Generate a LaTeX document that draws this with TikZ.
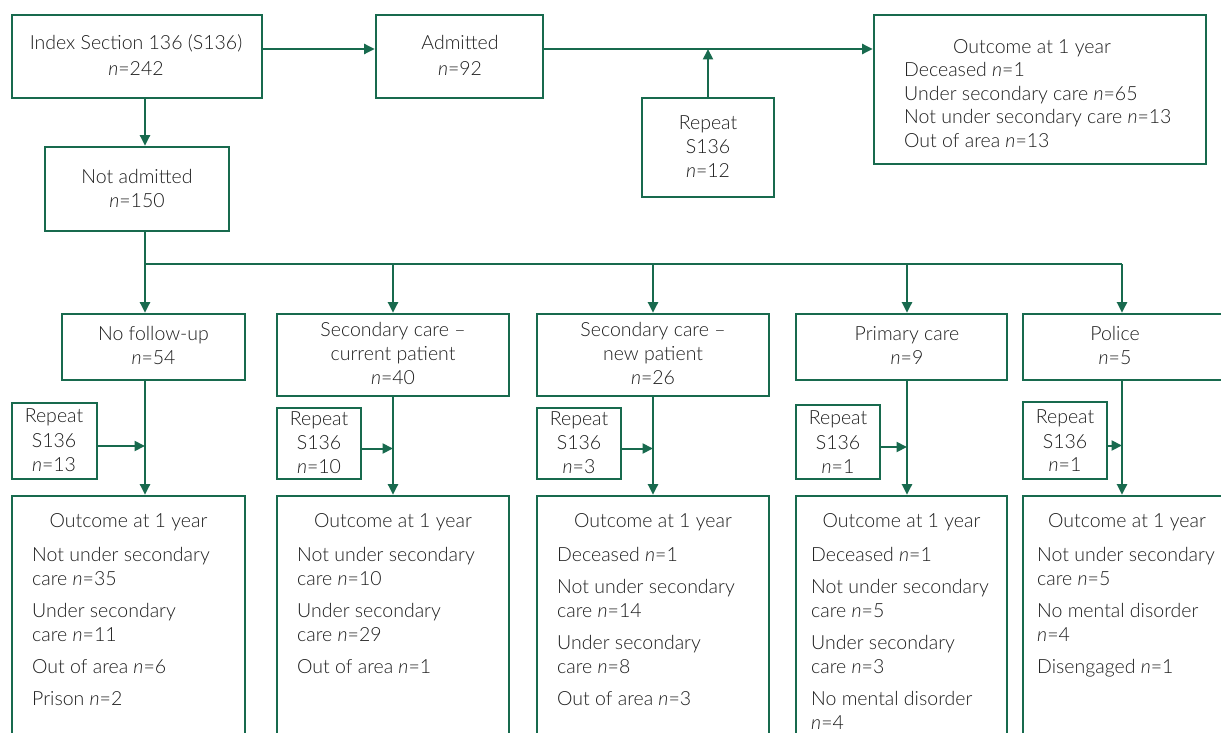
\documentclass[tikz,border=0pt]{standalone}
\usepackage{fontspec}
\IfFontExistsTF{Lato Light}{\setmainfont{Lato}[UprightFont={* Light}, ItalicFont={* Light Italic}]}{\setmainfont{Lato}}
\usetikzlibrary{arrows.meta}
\definecolor{fgreen}{RGB}{24,106,78}
\definecolor{ftext}{RGB}{30,30,30}
\newcounter{tncount}
\newcommand{\ctx}[3]{\stepcounter{tncount}\node[txt] (t\arabic{tncount}) at (#1,#2+6.5) {#3};}
\newcommand{\ltx}[3]{\stepcounter{tncount}\node[ltxt] (t\arabic{tncount}) at (#1,#2+6.5) {#3};}
\newcommand{\bx}[5]{\node[flowbox, minimum width={(#4-#2)*1pt}, minimum height={(#5-#3)*1pt}] (#1) at ({(#2+#4)/2},{(#3+#5)/2}) {};}
\newcommand{\nn}{\textit{n}}
\tikzset{
  flowbox/.style={draw=fgreen, line width=2.6pt, inner sep=0pt, fill=none},
  conn/.style={draw=fgreen, line width=2pt},
  arr/.style={conn, -{Triangle[length=10.5pt,width=10pt]}},
  txt/.style={text=ftext, font=\fontsize{19.5}{24}\selectfont, inner sep=0pt, anchor=base},
  ltxt/.style={txt, anchor=base west}
}
\begin{document}
\begin{tikzpicture}[x=1pt,y=-1pt]
\useasboundingbox (0,0) rectangle (1221,733);
\clip (0,0) rectangle (1221,733);
\fill[white] (0,0) rectangle (1221,733);

% top row
\bx{index}{12}{15}{262}{98}
\ctx{136}{43}{Index Section 136 (S136)}
\ctx{136}{69}{\nn=242}
\bx{admit}{376}{15}{543}{98}
\ctx{460}{43}{Admitted}
\ctx{460}{69}{\nn=92}
\bx{out0}{874}{15}{1206}{164}
\ctx{1032}{47}{Outcome at 1 year}
\ltx{904}{70}{Deceased \nn=1}
\ltx{904}{94}{Under secondary care \nn=65}
\ltx{904}{117}{Not under secondary care \nn=13}
\ltx{904}{141}{Out of area \nn=13}
\bx{rep0}{642}{98}{774}{197}
\ctx{708}{123}{Repeat}
\ctx{708}{147}{S136}
\ctx{708}{171}{\nn=12}
\bx{notadm}{45}{147}{229}{231}
\ctx{137}{177}{Not admitted}
\ctx{137}{201}{\nn=150}

\coordinate (rowA) at (0,49);
\draw[arr] (index.east |- rowA) -- (admit.west |- rowA);
\draw[arr] (admit.east |- rowA) -- (out0.west |- rowA);
\draw[arr] (rep0.north) -- (rep0.north |- rowA);

% spine
\coordinate (sp1) at (145,264);
\coordinate (sp2) at (393,264);
\coordinate (sp3) at (653,264);
\coordinate (sp4) at (907,264);
\coordinate (sp5) at (1122,264);
\draw[arr] (index.south -| sp1) -- (notadm.north -| sp1);
\draw[conn] (notadm.south -| sp1) -- (sp1) -- (sp5);

% row 2
\bx{b1}{62}{314}{245}{380}
\ctx{153.5}{334}{No follow-up}
\ctx{153.5}{358}{\nn=54}
\bx{b2}{277}{314}{509}{396}
\ctx{393}{330}{Secondary care \textendash}
\ctx{393}{354}{current patient}
\ctx{393}{378}{\nn=40}
\bx{b3}{537}{314}{769}{396}
\ctx{653}{330}{Secondary care \textendash}
\ctx{653}{354}{new patient}
\ctx{653}{378}{\nn=26}
\bx{b4}{796}{314}{1007}{380}
\ctx{907}{334}{Primary care}
\ctx{907}{358}{\nn=9}
\bx{b5}{1023}{314}{1231}{380}
\ctx{1115}{334}{Police}
\ctx{1115}{358}{\nn=5}

% row 3 repeats
\bx{r1}{12}{403}{97}{479}
\ctx{54}{416}{Repeat}
\ctx{54}{441}{S136}
\ctx{54}{465}{\nn=13}
\bx{r2}{277}{408}{361}{479}
\ctx{319}{419}{Repeat}
\ctx{319}{443}{S136}
\ctx{319}{467}{\nn=10}
\bx{r3}{537}{408}{621}{479}
\ctx{579}{419}{Repeat}
\ctx{579}{443}{S136}
\ctx{579}{467}{\nn=3}
\bx{r4}{796}{405}{880}{479}
\ctx{838}{418}{Repeat}
\ctx{838}{443}{S136}
\ctx{838}{467}{\nn=1}
\bx{r5}{1023}{402}{1107}{479}
\ctx{1065}{417}{Repeat}
\ctx{1065}{442}{S136}
\ctx{1065}{465}{\nn=1}

% row 4 outcomes
\bx{o1}{12}{496}{245}{760}
\ctx{128.5}{521}{Outcome at 1 year}
\ltx{32}{555}{Not under secondary}
\ltx{32}{579}{care \nn=35}
\ltx{32}{611}{Under secondary}
\ltx{32}{635}{care \nn=11}
\ltx{32}{667}{Out of area \nn=6}
\ltx{32}{699}{Prison \nn=2}
\bx{o2}{277}{496}{509}{760}
\ctx{393}{521}{Outcome at 1 year}
\ltx{297}{555}{Not under secondary}
\ltx{297}{579}{care \nn=10}
\ltx{297}{611}{Under secondary}
\ltx{297}{635}{care \nn=29}
\ltx{297}{667}{Out of area \nn=1}
\bx{o3}{537}{496}{769}{760}
\ctx{653}{521}{Outcome at 1 year}
\ltx{557}{555}{Deceased \nn=1}
\ltx{557}{587}{Not under secondary}
\ltx{557}{611}{care \nn=14}
\ltx{557}{643}{Under secondary}
\ltx{557}{667}{care \nn=8}
\ltx{557}{699}{Out of area \nn=3}
\bx{o4}{796}{496}{1007}{760}
\ctx{901.5}{521}{Outcome at 1 year}
\ltx{811}{555}{Deceased \nn=1}
\ltx{811}{587}{Not under secondary}
\ltx{811}{611}{care \nn=5}
\ltx{811}{643}{Under secondary}
\ltx{811}{667}{care \nn=3}
\ltx{811}{699}{No mental disorder}
\ltx{811}{723}{\nn=4}
\bx{o5}{1023}{496}{1231}{760}
\ctx{1127}{521}{Outcome at 1 year}
\ltx{1037}{555}{Not under secondary}
\ltx{1037}{579}{care \nn=5}
\ltx{1037}{611}{No mental disorder}
\ltx{1037}{635}{\nn=4}
\ltx{1037}{667}{Disengaged \nn=1}

% connectors rows 2-4
\foreach \i/\s in {1/sp1,2/sp2,3/sp3,4/sp4,5/sp5}{
  \draw[arr] (\s) -- (b\i.north -| \s);
  \draw[arr] (b\i.south -| \s) -- (o\i.north -| \s);
  \coordinate (a\i) at ([yshift=-5pt]r\i.east);
  \draw[arr] (a\i) -- (a\i -| \s);
}
\end{tikzpicture}
\end{document}
